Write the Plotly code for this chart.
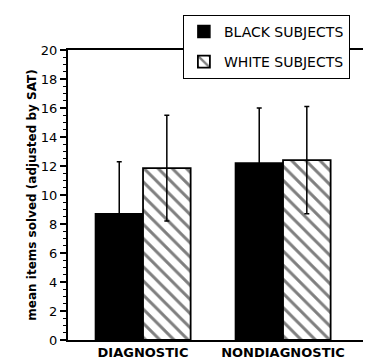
import plotly.graph_objects as go

categories = ["DIAGNOSTIC", "NONDIAGNOSTIC"]
black_means = [8.7, 12.2]
black_err = [3.6, 3.8]
white_means = [11.85, 12.4]
white_err = [3.65, 3.7]
y_ticks = [0, 2, 4, 6, 8, 10, 12, 14, 16, 18, 20]

fig = go.Figure()
fig.add_trace(go.Bar(
    x=categories, y=black_means, name="BLACK SUBJECTS", legendgroup="b",
    marker=dict(color="black", line=dict(color="black", width=1.5)),
    error_y=dict(type="data", array=black_err, visible=True, color="black", thickness=1.5, width=2.5),
))
fig.add_trace(go.Bar(
    x=categories, y=white_means, name="WHITE SUBJECTS", legendgroup="w",
    marker=dict(color="white", line=dict(color="black", width=1.8),
                pattern=dict(shape="\\", fgcolor="black", bgcolor="white", size=10, solidity=0.3)),
    error_y=dict(type="data", array=white_err, visible=True, color="black", thickness=1.5, width=2.5),
))

# page body has an 8px default margin, so the figure is sized to fit the window
fig.update_layout(
    width=363, height=356,
    margin=dict(l=60, r=3, t=42, b=24),
    paper_bgcolor="white", plot_bgcolor="white",
    barmode="group", bargap=0.32, bargroupgap=0,
    font=dict(family="DejaVu Sans", color="black", size=12),
    showlegend=True,
    legend=dict(
        x=0.383, y=1.121, xanchor="left", yanchor="top",
        bgcolor="white", bordercolor="black", borderwidth=1,
        font=dict(family="DejaVu Sans", size=14, color="black"),
        traceorder="grouped", tracegroupgap=9,
    ),
    xaxis=dict(
        type="category", range=[-0.536, 1.607],
        showline=True, linecolor="black", linewidth=1.5, mirror=True,
        ticks="", showgrid=False,
        tickfont=dict(family="DejaVu Sans", size=13, weight="bold"),
    ),
    yaxis=dict(
        range=[0, 20], tickvals=y_ticks,
        showline=True, linecolor="black", linewidth=2,
        ticks="outside", ticklen=6, tickwidth=1.5, tickcolor="black",
        minor=dict(dtick=0.5, ticks="outside", ticklen=3, tickwidth=1, tickcolor="black"),
        showgrid=False, zeroline=False,
        tickfont=dict(family="DejaVu Sans", size=13),
        title=dict(text="mean items solved (adjusted by SAT)",
                   font=dict(family="DejaVu Sans", size=12, weight="bold"), standoff=2),
    ),
)

fig.write_html("out.html")
